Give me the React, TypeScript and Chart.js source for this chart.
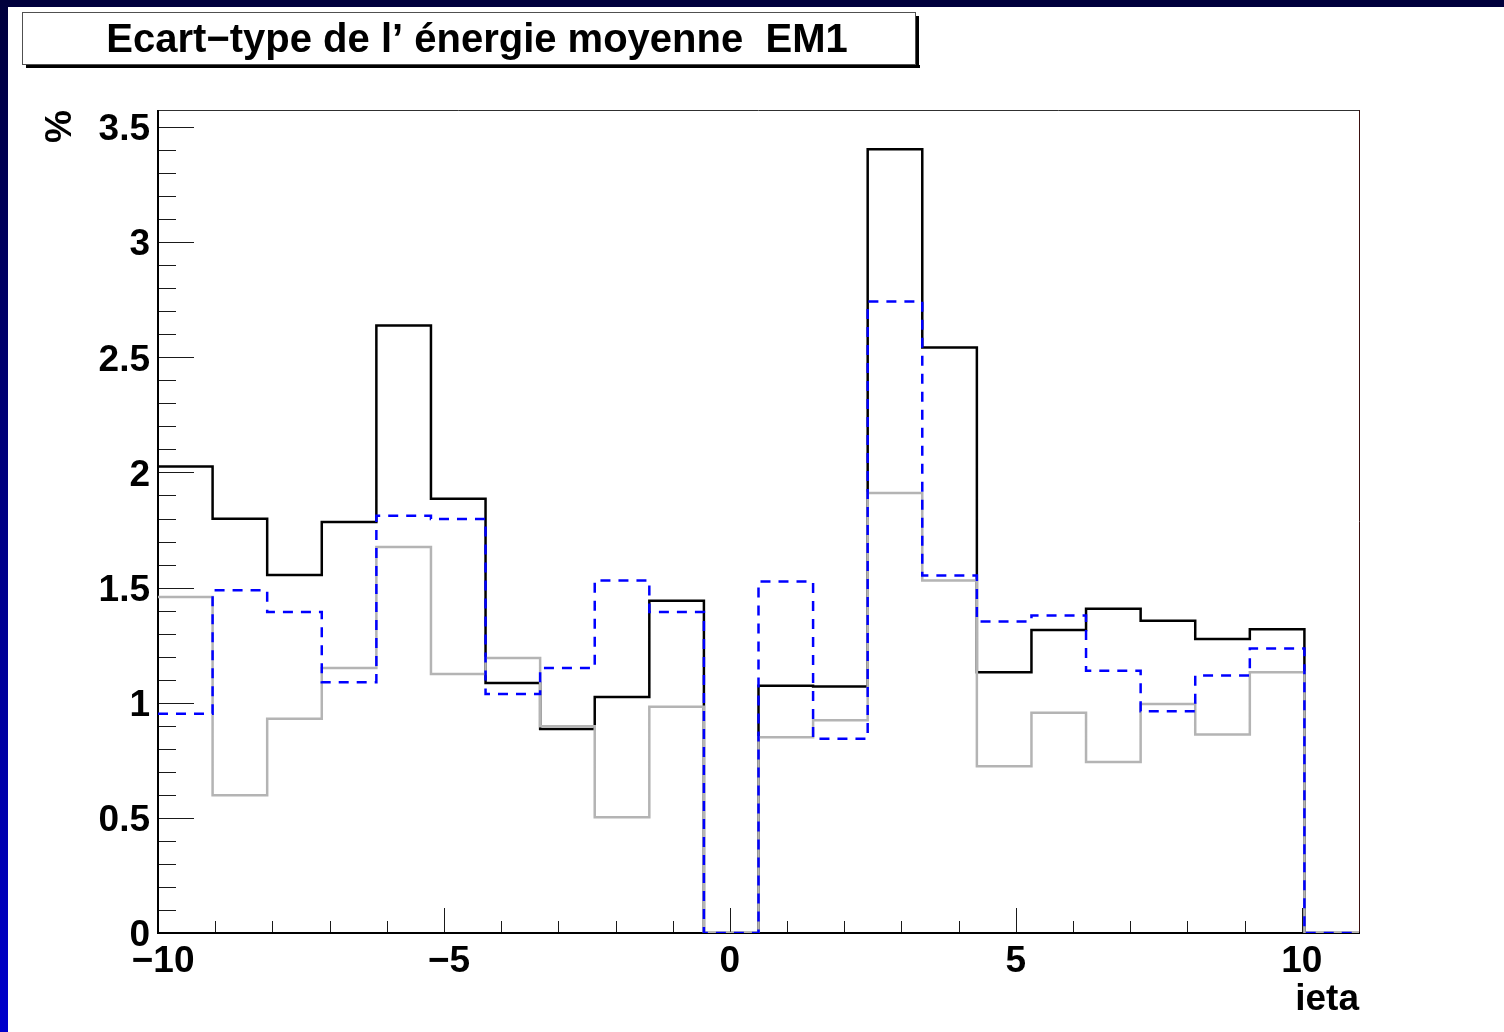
import React, { useEffect, useRef } from 'react';
import { Chart, registerables } from 'chart.js';

Chart.register(...registerables);

// ---- text ----
const TITLE = 'Ecart\u2212type de l\u2019 \u00e9nergie moyenne  EM1';
const X_TITLE = 'ieta';
const Y_TITLE = '%';

// ---- axes ----
const X_MIN = -10;
const X_MAX = 11;
const N_BINS = 22;
const Y_MIN = 0;
const Y_MAX = 3.574;

const xTickValues = [-10, -5, 0, 5, 10];
// negative labels are centred on their digits, as in the ROOT style
const xTickLabels = [' \u221210', ' \u22125', '0', '5', '10'];
const xMinorStep = 1;

const yTickValues = [0, 0.5, 1, 1.5, 2, 2.5, 3, 3.5];
const yTickLabels = ['0', '0.5', '1', '1.5', '2', '2.5', '3', '3.5'];
const yMinorStep = 0.1;

// ---- histogram contents (one value per bin, 22 bins) ----
const blackValues = [
  2.026, 1.799, 1.555, 1.785, 2.638, 1.886, 1.086, 0.886, 1.025, 1.443, 0,
  1.074, 1.071, 3.404, 2.543, 1.132, 1.316, 1.408, 1.356, 1.277, 1.319, 0,
];
const grayValues = [
  1.459, 0.598, 0.93, 1.151, 1.676, 1.125, 1.194, 0.898, 0.503, 0.982, 0,
  0.85, 0.924, 1.911, 1.531, 0.724, 0.956, 0.743, 0.995, 0.862, 1.132, 0,
];
const blueValues = [
  0.952, 1.488, 1.394, 1.089, 1.812, 1.798, 1.038, 1.151, 1.531, 1.394, 0,
  1.526, 0.844, 2.742, 1.552, 1.353, 1.379, 1.139, 0.963, 1.118, 1.235, 0,
];

const binEdges = Array.from(
  { length: N_BINS + 1 },
  (_, i) => X_MIN + (i * (X_MAX - X_MIN)) / N_BINS
);

// outline of a histogram: one point per bin low edge, drawn as steps
function stepPoints(values: number[]) {
  const pts: { x: number; y: number }[] = [];
  values.forEach((v, i) => pts.push({ x: binEdges[i], y: v }));
  pts.push({ x: binEdges[N_BINS], y: 0 });
  return pts;
}

const FONT = '"Liberation Sans", Arial, Helvetica, sans-serif';
const tickFont = { family: FONT, size: 37, weight: 'bold' as const };

// frame, inward ticks and the boxed title
const rootFrame = {
  id: 'rootFrame',
  beforeDraw(chart: any) {
    const { ctx } = chart;
    ctx.save();
    ctx.fillStyle = '#ffffff';
    ctx.fillRect(0, 0, chart.width, chart.height);

    // title box with drop shadow
    const bx = 14, by = 5, bw = 894, bh = 53;
    ctx.fillStyle = '#000000';
    ctx.fillRect(bx + 4, by + bh, bw, 3);
    ctx.fillRect(bx + bw, by + 4, 3, bh - 1);
    ctx.fillStyle = '#ffffff';
    ctx.fillRect(bx, by, bw, bh);
    ctx.strokeStyle = '#505050';
    ctx.lineWidth = 1;
    ctx.strokeRect(bx + 0.5, by + 0.5, bw - 1, bh - 1);
    ctx.fillStyle = '#000000';
    ctx.font = `bold 40px ${FONT}`;
    ctx.textAlign = 'center';
    ctx.textBaseline = 'middle';
    ctx.fillText(TITLE, bx + bw / 2 + 8, by + bh / 2 + 2);
    ctx.restore();
  },
  beforeDatasetsDraw(chart: any) {
    const { ctx, chartArea: a, scales } = chart;
    const xs = scales.x;
    const ys = scales.y;
    ctx.save();

    // frame
    ctx.lineWidth = 1;
    ctx.strokeStyle = '#303030';
    ctx.beginPath();
    ctx.moveTo(a.left, a.top + 0.5);
    ctx.lineTo(a.right, a.top + 0.5);
    ctx.stroke();
    ctx.strokeStyle = '#3c1010';
    ctx.beginPath();
    ctx.moveTo(a.right + 0.5, a.top);
    ctx.lineTo(a.right + 0.5, a.bottom);
    ctx.stroke();

    // inward tick marks
    ctx.strokeStyle = '#1a1a1a';
    ctx.beginPath();
    const isMajor = (v: number, majors: number[]) =>
      majors.some((m) => Math.abs(m - v) < 1e-6);
    const nY = Math.round((yTickValues[yTickValues.length - 1] - Y_MIN) / yMinorStep);
    for (let i = 0; i <= nY; i++) {
      const v = Y_MIN + i * yMinorStep;
      const py = Math.round(ys.getPixelForValue(v)) + 0.5;
      const len = isMajor(v, yTickValues) ? 36 : 18;
      ctx.moveTo(a.left, py);
      ctx.lineTo(a.left + len, py);
    }
    const nX = Math.round((xTickValues[xTickValues.length - 1] - X_MIN) / xMinorStep);
    for (let i = 0; i <= nX; i++) {
      const v = X_MIN + i * xMinorStep;
      const px = Math.round(xs.getPixelForValue(v)) + 0.5;
      const len = isMajor(v, xTickValues) ? 25 : 12;
      ctx.moveTo(px, a.bottom);
      ctx.lineTo(px, a.bottom - len);
    }
    ctx.stroke();

    // axis lines
    ctx.fillStyle = '#000000';
    ctx.fillRect(a.left - 1, a.top, 2, a.bottom - a.top + 1);
    ctx.fillRect(a.left - 1, a.bottom - 1, a.right - a.left + 2, 2);
    ctx.restore();
  },
};

export default function App() {
  const ref = useRef<HTMLCanvasElement>(null);

  useEffect(() => {
    const html = document.documentElement;
    html.style.background = 'linear-gradient(to bottom, #00003c, #0000cc)';
    html.style.height = '100%';
    html.style.overflow = 'hidden';
    document.body.style.margin = '7px 0 0 8px';

    const chart = new Chart(ref.current as HTMLCanvasElement, {
      type: 'line',
      data: {
        datasets: [
          {
            label: 'blue',
            data: stepPoints(blueValues),
            borderColor: '#0000ff',
            borderWidth: 2.5,
            borderDash: [10, 8],
            stepped: 'before',
            fill: false,
            pointRadius: 0,
            order: 0,
          },
          {
            label: 'gray',
            data: stepPoints(grayValues),
            borderColor: '#b4b4b4',
            borderWidth: 2.5,
            stepped: 'before',
            fill: false,
            pointRadius: 0,
            order: 1,
          },
          {
            label: 'black',
            data: stepPoints(blackValues),
            borderColor: '#000000',
            borderWidth: 2.5,
            stepped: 'before',
            fill: false,
            pointRadius: 0,
            order: 2,
          },
        ],
      },
      options: {
        animation: false,
        responsive: false,
        devicePixelRatio: 1,
        layout: { padding: { left: 0, top: 103, right: 145, bottom: 0 } },
        plugins: {
          legend: { display: false },
          tooltip: { enabled: false },
          title: { display: false },
        },
        elements: { point: { radius: 0 }, line: { tension: 0 } },
        scales: {
          x: {
            type: 'linear',
            min: X_MIN,
            max: X_MAX,
            grid: { display: false, drawTicks: false },
            border: { display: false },
            afterBuildTicks: (s: any) => {
              s.ticks = xTickValues.map((value) => ({ value }));
            },
            afterFit: (s: any) => {
              s.height = 99;
            },
            ticks: {
              callback: (_v: any, i: number) => xTickLabels[i],
              font: tickFont,
              color: '#000000',
              padding: 7,
              maxRotation: 0,
              autoSkip: false,
            },
            title: {
              display: true,
              text: X_TITLE,
              align: 'end',
              font: tickFont,
              color: '#000000',
              padding: { top: 0, bottom: 10 },
            },
          },
          y: {
            type: 'linear',
            min: Y_MIN,
            max: Y_MAX,
            grid: { display: false, drawTicks: false },
            border: { display: false },
            afterBuildTicks: (s: any) => {
              s.ticks = yTickValues.map((value) => ({ value }));
            },
            afterFit: (s: any) => {
              s.width = 150;
            },
            ticks: {
              callback: (_v: any, i: number) => yTickLabels[i],
              font: tickFont,
              color: '#000000',
              padding: 8,
              labelOffset: 3,
              autoSkip: false,
            },
            title: {
              display: true,
              text: Y_TITLE,
              align: 'end',
              font: tickFont,
              color: '#000000',
              padding: { top: 31, bottom: 0 },
            },
          },
        },
      } as any,
      plugins: [rootFrame],
    });
    return () => chart.destroy();
  }, []);

  return (
    <canvas
      ref={ref}
      width={1496}
      height={1025}
      style={{ display: 'block', width: 1496, height: 1025, background: '#ffffff' }}
    />
  );
}
